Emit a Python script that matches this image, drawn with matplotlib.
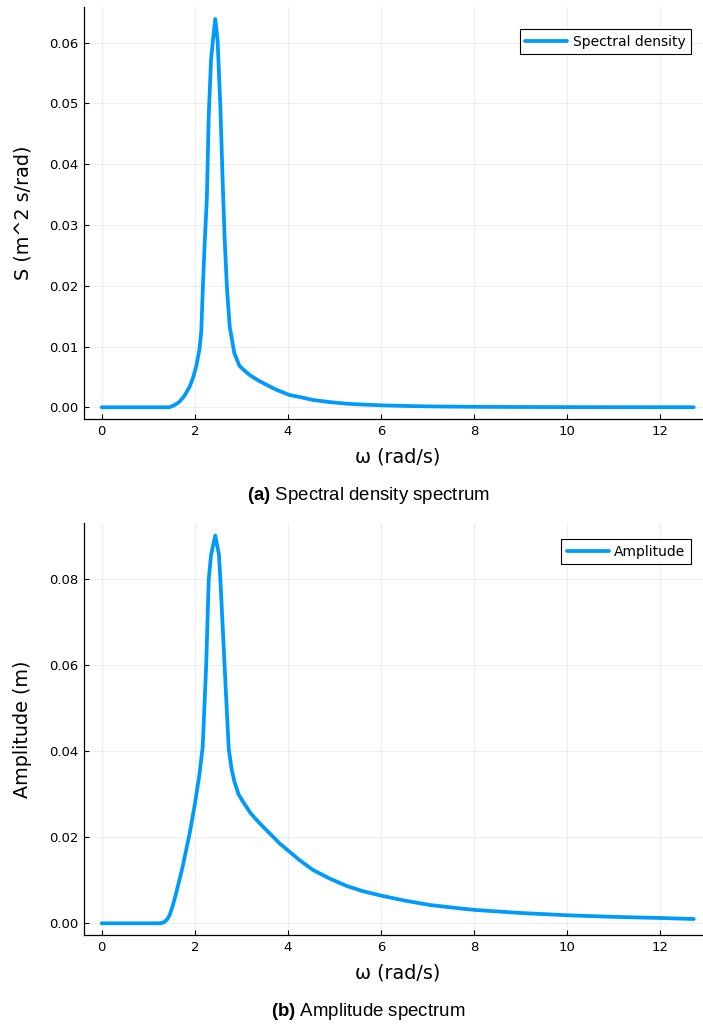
import matplotlib
matplotlib.use("Agg")
import matplotlib.pyplot as plt

plt.rcParams["mathtext.fontset"] = "custom"
plt.rcParams["mathtext.rm"] = "Liberation Sans"
plt.rcParams["mathtext.bf"] = "Liberation Sans:bold"

# spectral density S(omega)
omega_s = [0.0, 1.0, 1.40, 1.46, 1.55, 1.67, 1.78, 1.89, 1.96, 2.03, 2.10, 2.14, 2.17,
           2.21, 2.26, 2.30, 2.35, 2.39, 2.44, 2.49, 2.55, 2.60, 2.64, 2.69, 2.75,
           2.85, 2.96, 3.03, 3.18, 3.39, 3.54, 3.75, 4.04, 4.25, 4.54, 4.9, 5.26,
           5.6, 6.02, 6.5, 7.05, 8.02, 9.0, 10.02, 11.0, 12.02, 12.72]
spec = [0.0, 0.0, 0.0, 0.00002, 0.0003, 0.0009, 0.0019, 0.0034, 0.0048, 0.0067,
        0.0095, 0.0125, 0.0190, 0.0265, 0.0345, 0.0480, 0.0573, 0.0604, 0.0639,
        0.0604, 0.0495, 0.0370, 0.0281, 0.0198, 0.0133, 0.0089, 0.0068, 0.0063,
        0.0053, 0.0043, 0.0037, 0.0029, 0.0020, 0.0017, 0.0012, 0.00085, 0.00059,
        0.00045, 0.00032, 0.00022, 0.00014, 0.000075, 0.000045, 0.000027,
        0.000018, 0.000012, 0.0000078]

# amplitude A(omega)
omega_a = [0.0, 1.0, 1.24, 1.30, 1.36, 1.41, 1.46, 1.53, 1.60, 1.74, 1.89, 2.0,
           2.10, 2.17, 2.245, 2.30, 2.35, 2.44, 2.52, 2.55, 2.64, 2.73, 2.79,
           2.85, 2.94, 3.03, 3.20, 3.39, 3.75, 3.82, 4.25, 4.54, 4.9, 5.26, 5.6,
           6.02, 6.5, 7.05, 7.5, 8.02, 9.0, 10.02, 11.0, 12.02, 12.72]
amp = [0.0, 0.0, 0.0, 0.0001, 0.0004, 0.0010, 0.0019, 0.0042, 0.0070, 0.0132,
       0.0209, 0.0276, 0.0346, 0.0410, 0.0600, 0.0800, 0.0857, 0.0902, 0.0857,
       0.0800, 0.0600, 0.0405, 0.0360, 0.0330, 0.0300, 0.0284, 0.0256, 0.0233,
       0.0194, 0.0186, 0.0147, 0.0124, 0.0104, 0.0087, 0.0075, 0.0064, 0.0053,
       0.00426, 0.0037, 0.0031, 0.0024, 0.00186, 0.0015, 0.00123, 0.00100]

xticks = [0, 2, 4, 6, 8, 10, 12]
yticks_s = [0.0, 0.01, 0.02, 0.03, 0.04, 0.05, 0.06]
yticks_a = [0.0, 0.02, 0.04, 0.06, 0.08]

blue = "#009afa"
W, H = 703, 1026

fig = plt.figure(figsize=(W / 100, H / 100), dpi=100)


def panel(top, bottom, xs, ys, yticks, ylim, ylabel, leg_label, leg_box):
    ax = fig.add_axes([84 / W, 1 - bottom / H, (710.5 - 84) / W, (bottom - top) / H])
    ax.plot(xs, ys, color=blue, lw=2.7, label=leg_label, solid_capstyle="round",
            solid_joinstyle="round")
    ax.set_xlim(-0.38, 13.08)
    ax.set_ylim(*ylim)
    ax.set_xticks(xticks)
    ax.set_yticks(yticks)
    ax.set_yticklabels([f"{v:.2f}" for v in yticks])
    ax.grid(True, color="black", alpha=0.08, lw=0.6)
    for s in ["top", "right"]:
        ax.spines[s].set_visible(False)
    for s in ["left", "bottom"]:
        ax.spines[s].set_linewidth(0.9)
    ax.tick_params(direction="in", length=3.5, width=0.8, labelsize=9.5, pad=4)
    ax.set_xlabel("ω (rad/s)", fontsize=13.8, labelpad=7)
    ax.set_ylabel(ylabel, fontsize=13.8, labelpad=12)
    leg = ax.legend(loc="upper right", bbox_to_anchor=leg_box,
                    bbox_transform=fig.transFigure, fontsize=10,
                    fancybox=False, framealpha=1, edgecolor="black",
                    handlelength=3.0, borderpad=0.4, handletextpad=0.4,
                    borderaxespad=0)
    leg.get_frame().set_linewidth(0.8)
    return ax


panel(7, 419, omega_s, spec, yticks_s, (-0.00193, 0.06587),
      "S (m^2 s/rad)", "Spectral density", (691 / W, 1 - 29 / H))
panel(523, 935, omega_a, amp, yticks_a, (-0.00272, 0.0931),
      "Amplitude (m)", "Amplitude", (691 / W, 1 - 539 / H))

cap = dict(ha="center", va="center", fontsize=13.4, family="Liberation Sans")
fig.text(368 / W, 1 - 495 / H, r"$\mathbf{(a)}$ Spectral density spectrum", **cap)
fig.text(368 / W, 1 - 1011 / H, r"$\mathbf{(b)}$ Amplitude spectrum", **cap)

fig.savefig("out.png", dpi=100)
